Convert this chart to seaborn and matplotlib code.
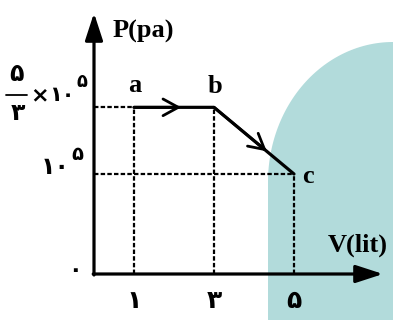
import numpy as np
import pandas as pd
import matplotlib
matplotlib.use("Agg")
import matplotlib.pyplot as plt
import seaborn as sns
from matplotlib.path import Path
from matplotlib.patches import PathPatch

sns.set_style("white")
plt.rcParams['font.family'] = ['DejaVu Sans']

# ---- data ----
states = ['a', 'b', 'c']
V_values = [1, 3, 5]               # lit
P_values = [5/3, 5/3, 1]           # x 10^5 Pa
xtick_vals = [1, 3, 5]
xtick_labels = ['۱', '۳', '۵']
origin_label = '۰'

df = pd.DataFrame({'V': V_values, 'P': P_values, 'state': states})

W, H = 393, 320
fig = plt.figure(figsize=(W / 100, H / 100), dpi=100)

# decorative teal background shape (figure pixel coords)
teal = '#b2dbdb'
cx, cy, ra, rb = 393, 182, 125, 140
t = np.linspace(np.pi, np.pi / 2, 60)
xs = list(cx + ra * np.cos(t)) + [W + 5, W + 5, 268]
ys = list(cy - rb * np.sin(t)) + [42, H + 5, H + 5]
verts = [(x / W, 1 - y / H) for x, y in zip(xs, ys)]
verts.append(verts[0])
codes = [Path.MOVETO] + [Path.LINETO] * (len(verts) - 2) + [Path.CLOSEPOLY]
fig.add_artist(PathPatch(Path(verts, codes), facecolor=teal, edgecolor='none',
                         transform=fig.transFigure, zorder=0))

ax = fig.add_axes([0, 0, 1, 1])
ax.set_facecolor('none')
ax.set_xlim((0 - 94) / 40, (W - 94) / 40)
ax.set_ylim((274 - H) / 100, 274 / 100)
ax.axis('off')

# axes arrows
ax.annotate('', xy=(0, 2.61), xytext=(0, -0.01),
            arrowprops=dict(arrowstyle='-|>,head_length=0.83,head_width=0.27',
                            mutation_scale=20, lw=2.3, color='black',
                            shrinkA=0, shrinkB=0), zorder=5)
ax.annotate('', xy=(7.225, 0), xytext=(-0.02, 0),
            arrowprops=dict(arrowstyle='-|>,head_length=0.83,head_width=0.27',
                            mutation_scale=20, lw=2.3, color='black',
                            shrinkA=0, shrinkB=0), zorder=5)

# dashed guide lines
dash = dict(color='black', lw=1.6, linestyle=(0, (2, 1)), zorder=3)
for v, p in zip(V_values, P_values):
    ax.plot([v, v], [0, p], **dash)
ax.plot([0, V_values[0]], [P_values[0], P_values[0]], **dash)
ax.plot([0, V_values[2]], [P_values[2], P_values[2]], **dash)

# process path
sns.lineplot(data=df, x='V', y='P', sort=False, color='black', lw=2.3,
             ax=ax, zorder=4, legend=False)

# direction chevrons
def chevron(i, frac):
    x0, y0 = V_values[i], P_values[i]
    x1, y1 = V_values[i + 1], P_values[i + 1]
    tip = (x0 + frac * (x1 - x0), y0 + frac * (y1 - y0))
    ax.annotate('', xy=tip, xytext=(x0, y0),
                arrowprops=dict(arrowstyle='->,head_length=0.55,head_width=0.3',
                                mutation_scale=20, lw=2.0, color='black',
                                shrinkA=0, shrinkB=0), zorder=4)
chevron(0, 0.59)
chevron(1, 0.66)

# point labels
serif_bold = dict(family='Liberation Serif', weight='bold', color='black')
label_pos = [(1.03, 1.82), (3.03, 1.81), (5.35, 0.91)]
for s, (lx, ly) in zip(states, label_pos):
    ax.text(lx, ly, s, ha='center', va='baseline', fontsize=19, **serif_bold)

ax.text(1.23, 2.36, 'P(pa)', ha='center', va='baseline', fontsize=19, **serif_bold)
ax.text(6.59, 0.22, 'V(lit)', ha='center', va='baseline', fontsize=19, **serif_bold)

# x tick labels
digit = dict(family='DejaVu Sans', weight='bold', color='black')
for v, lab in zip(xtick_vals, xtick_labels):
    ax.text(v, -0.27, lab, ha='center', va='center', fontsize=18, **digit)
ax.text(-0.475, 0.04, origin_label, ha='center', va='center', fontsize=16, **digit)

# y labels: 10^5
ax.text(-0.60, 1.07, '۱۰', ha='right', va='center', fontsize=17, **digit)
ax.text(-0.57, 1.19, '۵', ha='left', va='center', fontsize=14, **digit)

# y labels: 5/3 x 10^5
ax.text(-1.93, 2.00, '۵', ha='center', va='center', fontsize=17, **digit)
ax.plot([-2.2, -1.68], [1.79, 1.79], color='black', lw=1.3)
ax.text(-1.90, 1.61, '۳', ha='center', va='center', fontsize=17, **digit)
ax.text(-1.36, 1.79, '×', ha='center', va='center', fontsize=16, **digit)
ax.text(-1.12, 1.79, '۱۰', ha='left', va='center', fontsize=15, **digit)
ax.text(-0.45, 1.92, '۵', ha='left', va='center', fontsize=13, **digit)

fig.savefig('out.png', dpi=100)
